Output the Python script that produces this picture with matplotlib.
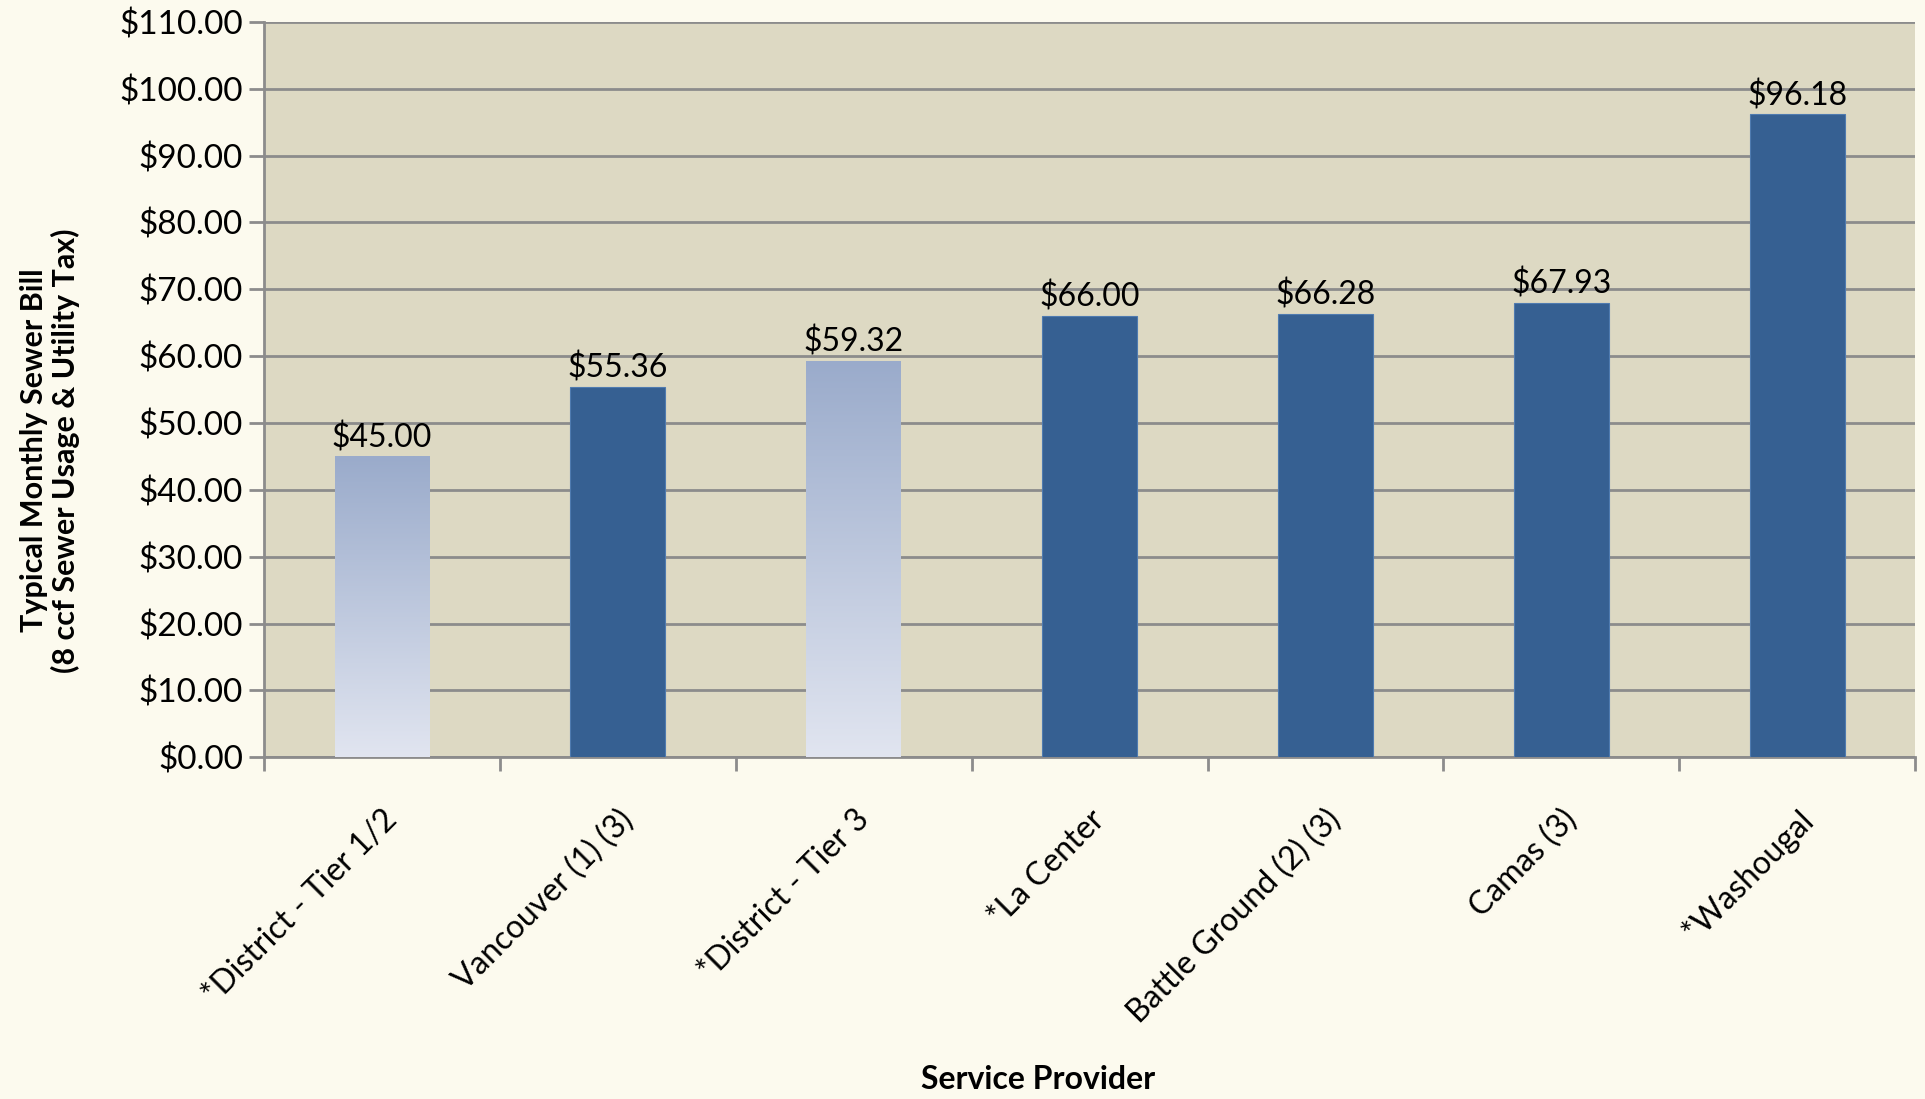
import numpy as np
import matplotlib
matplotlib.use("Agg")
import matplotlib.pyplot as plt
from matplotlib.colors import LinearSegmentedColormap
from matplotlib.ticker import FuncFormatter, FixedLocator

providers = ["*District - Tier 1/2", "Vancouver (1) (3)", "*District - Tier 3",
             "*La Center", "Battle Ground (2) (3)", "Camas (3)", "*Washougal"]
bills = [45.00, 55.36, 59.32, 66.00, 66.28, 67.93, 96.18]

plt.rcParams['font.family'] = ['Lato', 'DejaVu Sans']

fig = plt.figure(figsize=(19.25, 10.99), dpi=100, facecolor='#FCFAEE')
ax = fig.add_axes([0.137, 0.311, 0.858, 0.669])
ax.set_facecolor('#DDD9C3')

x = np.arange(len(providers))
bars = ax.bar(x, bills, width=0.4, color='#366092', edgecolor='#4F7BB0',
              linewidth=0.8, zorder=3)

# District bars use a light blue vertical gradient
grad = LinearSegmentedColormap.from_list('g', ['#E1E5F0', '#9AABCB'])
for name, b, val in zip(providers, bars, bills):
    if name.startswith('*District'):
        b.set_facecolor('none')
        b.set_edgecolor('none')
        x0 = b.get_x()
        img = ax.imshow(np.linspace(0, 1, 256).reshape(-1, 1), cmap=grad,
                        origin='lower', aspect='auto',
                        extent=(x0, x0 + b.get_width(), 0, val), zorder=3)
        img.set_clip_path(b)

for xi, val in zip(x, bills):
    ax.text(xi, val + 0.5, f"${val:.2f}", ha='center', va='bottom',
            fontsize=23, color='black', zorder=4)

ax.set_xlim(-0.5, len(providers) - 0.5)
ax.set_ylim(0, 110)
ax.set_yticks(np.arange(0, 111, 10))
ax.yaxis.set_major_formatter(FuncFormatter(lambda v, p: f"${v:.2f}"))
ax.grid(axis='y', color='#8C8C8C', linewidth=2, zorder=1)
ax.set_axisbelow(True)

# category ticks sit between the bars
ax.xaxis.set_major_locator(FixedLocator(np.arange(-0.5, len(providers), 1)))
ax.xaxis.set_minor_locator(FixedLocator(x))
ax.set_xticklabels([])
ax.set_xticklabels(providers, minor=True, rotation=45, ha='right',
                   rotation_mode='anchor', fontsize=23)
ax.tick_params(axis='x', which='major', length=10, width=2, color='#8C8C8C')
ax.tick_params(axis='x', which='minor', length=0, pad=34)
ax.tick_params(axis='y', length=11, width=2, color='#8C8C8C', labelsize=24, pad=4)

for s in ['top', 'right']:
    ax.spines[s].set_visible(False)
for s in ['left', 'bottom']:
    ax.spines[s].set_color('#8C8C8C')
    ax.spines[s].set_linewidth(2)

fig.text(0.026, 0.590, "Typical Monthly Sewer Bill\n(8 ccf Sewer Usage & Utility Tax)",
         rotation=90, ha='center', va='center', fontsize=22, fontweight='bold',
         linespacing=1.15)
fig.text(0.539, 0.018, "Service Provider", ha='center', va='center',
         fontsize=23, fontweight='bold')

fig.savefig("out.png", dpi=100, facecolor=fig.get_facecolor())
